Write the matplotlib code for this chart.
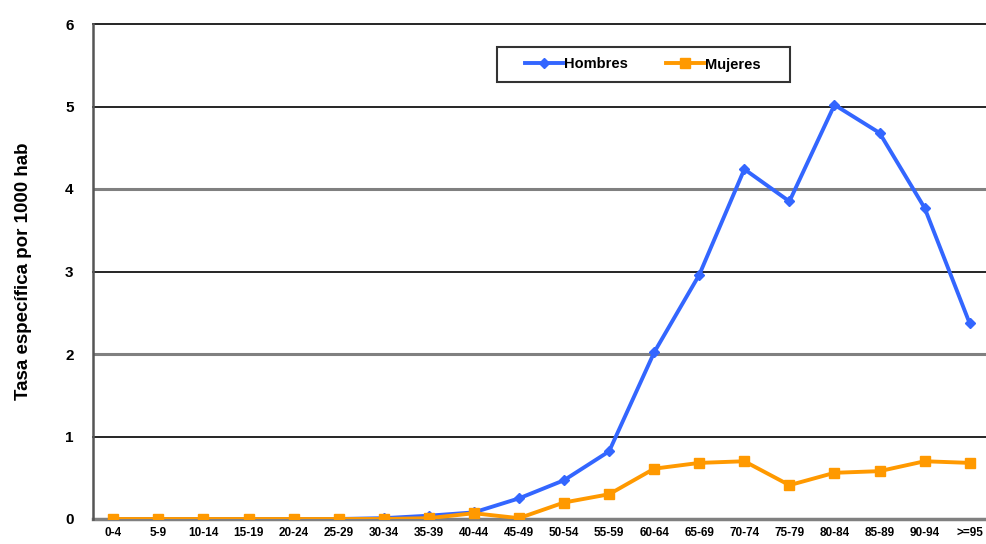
import matplotlib
matplotlib.use("Agg")
import matplotlib.pyplot as plt
from matplotlib.patches import Rectangle

categories = ["0-4", "5-9", "10-14", "15-19", "20-24", "25-29", "30-34", "35-39",
              "40-44", "45-49", "50-54", "55-59", "60-64", "65-69", "70-74", "75-79",
              "80-84", "85-89", "90-94", ">=95"]
hombres = [0.0, 0.0, 0.0, 0.0, 0.0, 0.0, 0.01, 0.04, 0.08, 0.25, 0.47, 0.82,
           2.02, 2.96, 4.24, 3.85, 5.02, 4.68, 3.77, 2.37]
mujeres = [0.0, 0.0, 0.0, 0.0, 0.0, 0.0, 0.0, 0.01, 0.07, 0.01, 0.20, 0.30,
           0.61, 0.68, 0.70, 0.41, 0.56, 0.58, 0.70, 0.68]
yticks = [0, 1, 2, 3, 4, 5, 6]

plt.rcParams['font.family'] = ['Liberation Sans', 'DejaVu Sans']

W, H = 987, 544
fig = plt.figure(figsize=(W/100, H/100), dpi=100)
ax = fig.add_axes([93/W, 25/H, (990-93)/W, 495/H])

x = list(range(len(categories)))

for v in [1, 3, 5, 6]:
    ax.axhline(v, color='black', lw=1.2, zorder=1, clip_on=False)
for v in [2, 4]:
    ax.axhline(v, color='#808080', lw=2.2, zorder=1)

ax.plot(x, hombres, color='#3366FF', lw=2.8, marker='D', markersize=5,
        label='Hombres', zorder=3)
ax.plot(x, mujeres, color='#FF9900', lw=2.8, marker='s', markersize=7.5,
        label='Mujeres', zorder=3)

ax.set_xlim(-0.45, len(categories) - 0.55)
ax.set_ylim(0, 6)
ax.set_yticks(yticks)
ax.set_yticklabels([str(t) for t in yticks], fontweight='bold', fontsize=11)
ax.set_xticks(x)
ax.set_xticklabels(categories, fontweight='bold', fontsize=8.5)
ax.tick_params(axis='both', length=0)
ax.tick_params(axis='y', pad=14)
ax.tick_params(axis='x', pad=6)

for s in ['top', 'right']:
    ax.spines[s].set_visible(False)
ax.spines['left'].set_color('#555555')
ax.spines['left'].set_linewidth(1.8)
ax.spines['bottom'].set_color('#808080')
ax.spines['bottom'].set_linewidth(2.5)
ax.spines['bottom'].set_zorder(2)

ax.set_ylabel('Tasa específica por 1000 hab', fontweight='bold', fontsize=13.5,
              labelpad=24)

# legend frame (figure pixels 497..790 x, 47..82 y from top)
frame = Rectangle((497/W, 1 - 82/H), (790-497)/W, 35/H,
                  transform=fig.transFigure, facecolor='white',
                  edgecolor='#333333', linewidth=1.5, zorder=5, clip_on=False)
ax.add_patch(frame)
leg = ax.legend(loc='center', bbox_to_anchor=(643/W, 1 - 64.5/H),
                bbox_transform=fig.transFigure, ncol=2,
                frameon=False, handlelength=2.6,
                handletextpad=0.1, columnspacing=2.6, borderpad=0.3,
                prop={'weight': 'bold', 'size': 10.5})
leg.set_zorder(6)

fig.savefig('out.png', dpi=100)
